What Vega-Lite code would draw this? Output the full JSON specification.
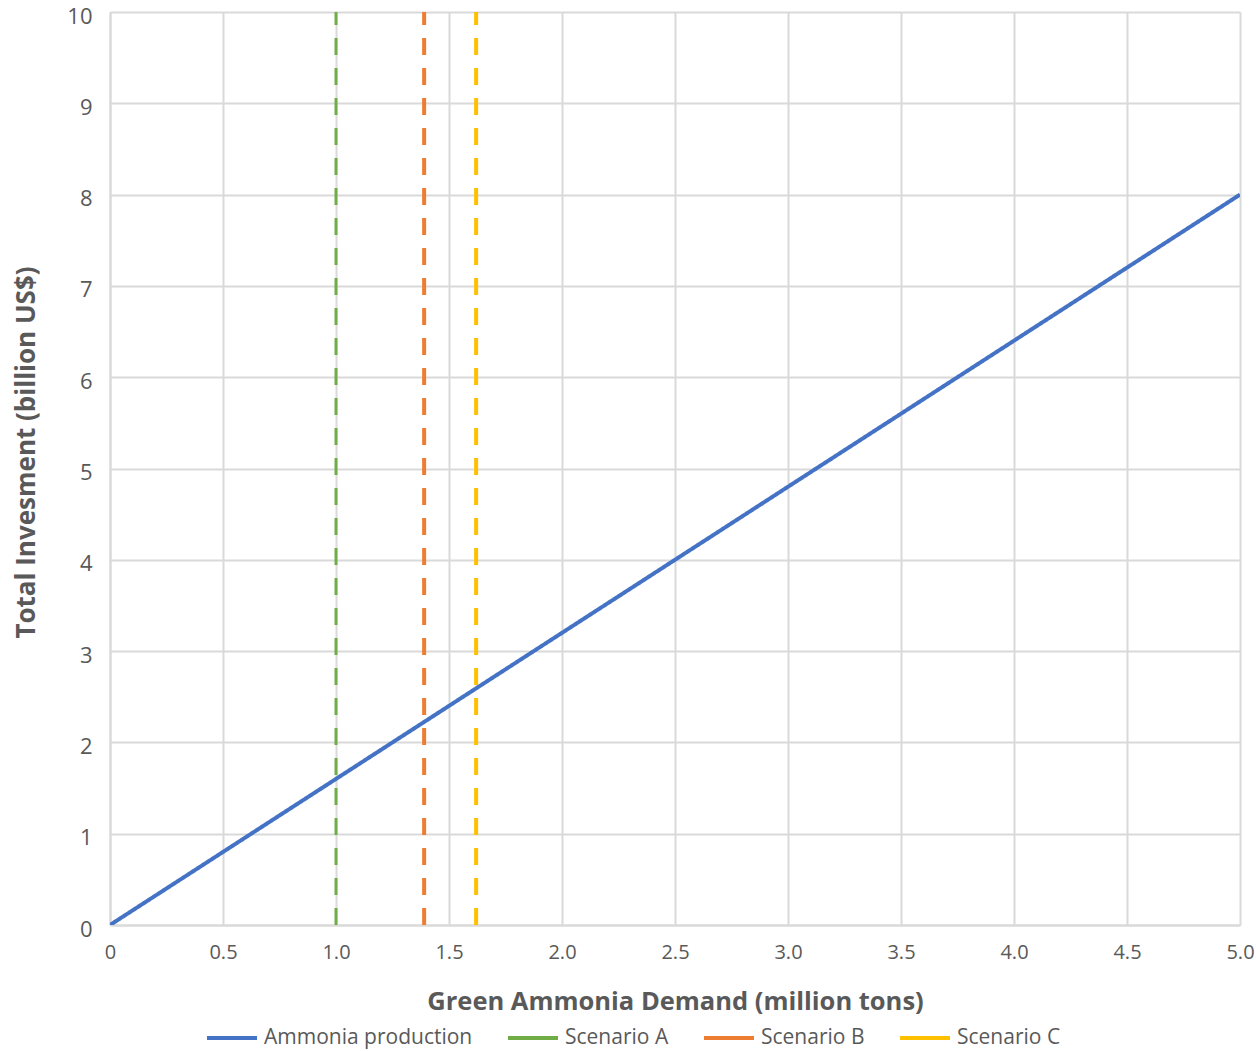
{
  "$schema": "https://vega.github.io/schema/vega-lite/v6.json",
  "width": 1130,
  "height": 913,
  "autosize": {"type": "none"},
  "padding": {"left": 110, "top": 12, "right": 16, "bottom": 126},
  "background": "white",
  "config": {
    "font": "Open Sans",
    "view": {"stroke": null},
    "axis": {
      "gridColor": "#D9D9D9",
      "gridWidth": 2,
      "domainColor": "#D9D9D9",
      "domainWidth": 2,
      "ticks": false,
      "labelColor": "#595959",
      "titleColor": "#595959",
      "labelFont": "Open Sans",
      "titleFont": "Open Sans"
    }
  },
  "data": {
    "values": [
      {"series": "Ammonia production", "x": 0, "y": 0},
      {"series": "Ammonia production", "x": 5, "y": 8},
      {"series": "Scenario A", "x": 1.0, "y": 0},
      {"series": "Scenario A", "x": 1.0, "y": 10},
      {"series": "Scenario B", "x": 1.39, "y": 0},
      {"series": "Scenario B", "x": 1.39, "y": 10},
      {"series": "Scenario C", "x": 1.62, "y": 0},
      {"series": "Scenario C", "x": 1.62, "y": 10}
    ]
  },
  "mark": {"type": "line", "clip": true},
  "encoding": {
    "x": {
      "field": "x",
      "type": "quantitative",
      "scale": {"domain": [0, 5], "nice": false},
      "axis": {
        "values": [0, 0.5, 1, 1.5, 2, 2.5, 3, 3.5, 4, 4.5, 5],
        "labelExpr": "datum.value == 0 ? '0' : format(datum.value, '.1f')",
        "labelFontSize": 20,
        "labelPadding": 17,
        "labelFlush": false,
        "title": "Green Ammonia Demand (million tons)",
        "titleFontSize": 25.5,
        "titleFontWeight": "bold",
        "titlePadding": 27
      }
    },
    "y": {
      "field": "y",
      "type": "quantitative",
      "scale": {"domain": [0, 10], "nice": false},
      "axis": {
        "values": [0, 1, 2, 3, 4, 5, 6, 7, 8, 9, 10],
        "labelFontSize": 22,
        "labelPadding": 18,
        "labelOffset": 4,
        "labelFlush": false,
        "title": "Total Invesment (billion US$)",
        "titleFontSize": 26,
        "titleFontWeight": "bold",
        "titlePadding": 27,
        "titleY": 440
      }
    },
    "order": {"field": "y"},
    "detail": {"field": "series"},
    "color": {
      "field": "series",
      "type": "nominal",
      "scale": {
        "domain": ["Ammonia production", "Scenario A", "Scenario B", "Scenario C"],
        "range": ["#4472C4", "#70AD47", "#ED7D31", "#FFC000"]
      },
      "legend": {
        "title": null,
        "orient": "none",
        "direction": "horizontal",
        "legendX": 95,
        "legendY": 999,
        "symbolType": "stroke",
        "symbolSize": 2500,
        "symbolStrokeWidth": 4,
        "labelFontSize": 21,
        "labelLimit": 400,
        "labelColor": "#595959",
        "labelOffset": 5,
        "columnPadding": 27
      }
    },
    "strokeWidth": {
      "condition": {"test": "datum.series == 'Scenario A'", "value": 3},
      "value": 4
    },
    "strokeDash": {
      "condition": {"test": "datum.series == 'Ammonia production'", "value": [1, 0]},
      "value": [17, 13]
    }
  }
}
